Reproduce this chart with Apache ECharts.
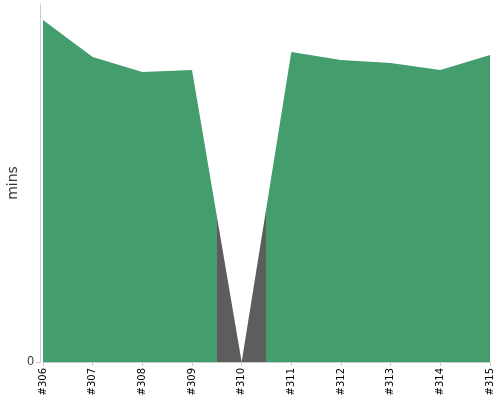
<!DOCTYPE html>
<html>
<head>
<meta charset="utf-8">
<script src="https://cdn.jsdelivr.net/npm/echarts@6/dist/echarts.min.js"></script>
<style>
  html, body { margin: 0; padding: 0; background: #fff; }
  #container { width: 500px; height: 400px; }
</style>
</head>
<body>
<div id="container"></div>
<script>
  var builds = ['#306', '#307', '#308', '#309', '#310', '#311', '#312', '#313', '#314', '#315'];
  var durations = [342, 305, 290, 292, 0, 310, 302, 299, 292, 307];
  var failedBuilds = ['#310'];
  var yMax = 358;
  var okColor = '#449d6c';
  var failColor = '#5d5d5d';

  var dom = document.getElementById("container");
  var myChart = echarts.init(dom);

  // horizontal colour stops: each failed build is gray for half a step on each side
  var last = builds.length - 1;
  var stops = [{ offset: 0, color: okColor }];
  failedBuilds.forEach(function (b) {
      var i = builds.indexOf(b);
      var a = Math.max(0, (i - 0.5) / last);
      var z = Math.min(1, (i + 0.5) / last);
      stops.push({ offset: a, color: okColor });
      stops.push({ offset: a, color: failColor });
      stops.push({ offset: z, color: failColor });
      stops.push({ offset: z, color: okColor });
  });
  stops.push({ offset: 1, color: okColor });

  var option = {
      animation: false,
      grid: {
          left: 43,
          right: 10,
          top: 4,
          bottom: 38,
          outerBoundsMode: 'none',
          containLabel: false
      },
      xAxis: {
          type: 'category',
          boundaryGap: false,
          data: builds,
          axisLine: { lineStyle: { color: '#ccc' } },
          axisTick: { lineStyle: { color: '#ccc' }, length: 4 },
          axisLabel: {
              rotate: 90,
              color: '#000',
              fontSize: 10,
              fontFamily: 'DejaVu Sans',
              margin: 6
          }
      },
      yAxis: {
          type: 'value',
          min: 0,
          max: yMax,
          offset: 3,
          name: 'mins',
          nameLocation: 'middle',
          nameGap: 20,
          nameMoveOverlap: false,
          nameTextStyle: { color: '#333', fontSize: 14, fontFamily: 'DejaVu Sans' },
          splitLine: { show: false },
          axisLine: { show: true, lineStyle: { color: '#ccc' } },
          axisTick: { show: true, lineStyle: { color: '#ccc' }, length: 4, customValues: [0] },
          axisLabel: {
              color: '#333',
              fontSize: 12,
              margin: 6,
              customValues: [0]
          }
      },
      series: [{
          type: 'line',
          data: durations,
          symbol: 'none',
          lineStyle: { width: 0 },
          areaStyle: {
              opacity: 1,
              color: new echarts.graphic.LinearGradient(0, 0, 1, 0, stops)
          }
      }]
  };

  myChart.setOption(option, true);
</script>
</body>
</html>
